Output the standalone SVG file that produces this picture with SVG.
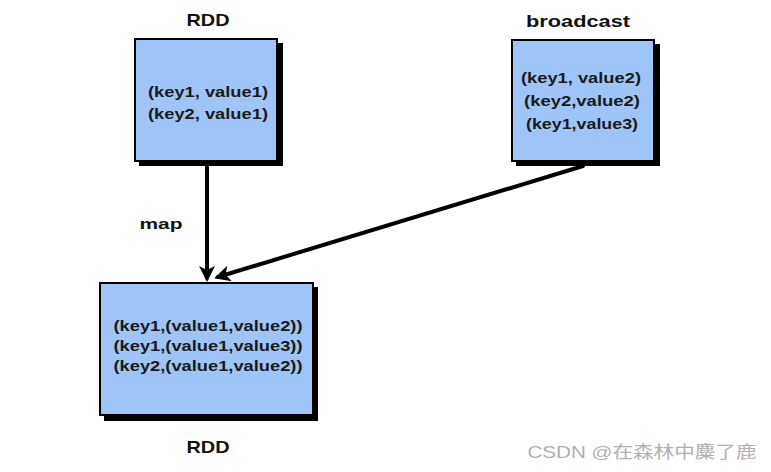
<svg xmlns="http://www.w3.org/2000/svg" width="771" height="472" viewBox="0 0 771 472">
<defs>
<marker id="ah" markerWidth="4" markerHeight="4" refX="3" refY="2" orient="auto" markerUnits="strokeWidth">
<path d="M0,0 L4,2 L0,4 L1,2 Z" fill="#000"/>
</marker>
</defs>
<style>
.box{fill:#9fc5f8;stroke:#000;stroke-width:2}
.sh{fill:#000}
.t{font-family:"Liberation Sans",Arial,sans-serif;font-weight:bold;font-size:15px;fill:#1a1a1a;text-anchor:middle}
.h{font-family:"Liberation Sans",Arial,sans-serif;font-weight:bold;font-size:17px;fill:#111;text-anchor:middle}
.e{stroke:#000;stroke-width:4;fill:none;stroke-linecap:round}
</style>
<rect width="771" height="472" fill="#fff"/>
<g id="rdd1">
<text class="h" x="208" y="26" textLength="43" lengthAdjust="spacingAndGlyphs">RDD</text>
<rect class="sh" x="139" y="43" width="144" height="123"/>
<rect class="box" x="135" y="39" width="142" height="122"/>
<text class="t" x="208" y="97" textLength="120" lengthAdjust="spacingAndGlyphs">(key1, value1)</text>
<text class="t" x="208" y="119" textLength="120" lengthAdjust="spacingAndGlyphs">(key2, value1)</text>
</g>
<g id="broadcast">
<text class="h" x="578" y="27" textLength="104" lengthAdjust="spacingAndGlyphs">broadcast</text>
<rect class="sh" x="516" y="44" width="144" height="122"/>
<rect class="box" x="512" y="40" width="142" height="121"/>
<text class="t" x="581" y="83" textLength="120" lengthAdjust="spacingAndGlyphs">(key1, value2)</text>
<text class="t" x="582" y="106" textLength="116" lengthAdjust="spacingAndGlyphs">(key2,value2)</text>
<text class="t" x="582" y="129" textLength="112" lengthAdjust="spacingAndGlyphs">(key1,value3)</text>
</g>
<g id="rdd2">
<rect class="sh" x="104" y="287" width="214" height="134"/>
<rect class="box" x="100" y="283" width="213" height="132"/>
<text class="t" x="208" y="331" textLength="189" lengthAdjust="spacingAndGlyphs">(key1,(value1,value2))</text>
<text class="t" x="208" y="351" textLength="189" lengthAdjust="spacingAndGlyphs">(key1,(value1,value3))</text>
<text class="t" x="208" y="371" textLength="189" lengthAdjust="spacingAndGlyphs">(key2,(value1,value2))</text>
<text class="h" x="208" y="453" textLength="43" lengthAdjust="spacingAndGlyphs">RDD</text>
</g>
<g id="connectors">
<line class="e" x1="207" y1="167" x2="207" y2="278" marker-end="url(#ah)"/>
<line class="e" x1="583" y1="166" x2="218" y2="277" marker-end="url(#ah)"/>
<text x="161" y="229" font-family="'Liberation Sans',Arial,sans-serif" font-weight="bold" font-size="15" fill="#111" text-anchor="middle" textLength="43" lengthAdjust="spacingAndGlyphs">map</text>
</g>
<text x="642" y="458" font-family="'Liberation Sans','Noto Sans CJK SC',sans-serif" font-size="17" fill="#b0b0b0" text-anchor="middle" textLength="229" lengthAdjust="spacingAndGlyphs">CSDN @在森林中麋了鹿</text>
</svg>
